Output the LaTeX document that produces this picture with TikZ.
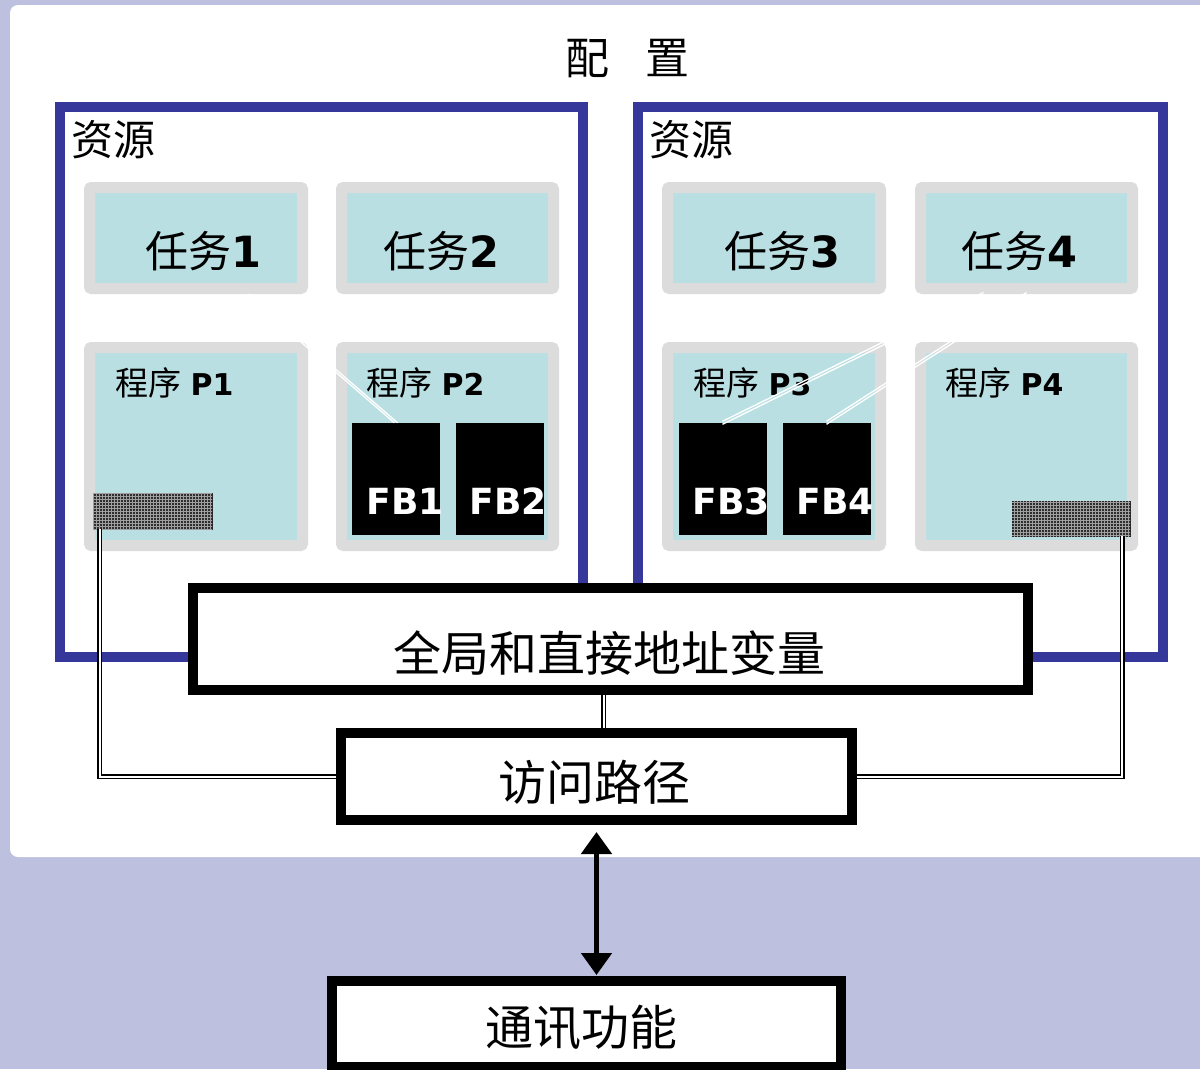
\documentclass[tikz,border=0pt]{standalone}
\usepackage{fontspec}
\setmainfont{DejaVu Sans}
\newfontfamily\cjk{Noto Sans CJK SC}
\usetikzlibrary{arrows.meta,patterns}
\definecolor{lav}{HTML}{BDC1DF}
\definecolor{resblue}{HTML}{36379B}
\definecolor{boxgrey}{HTML}{DCDCDC}
\definecolor{boxcyan}{HTML}{BADFE2}
\definecolor{hatchdark}{HTML}{2E2E2E}
\tikzset{
  bluebox/.style={draw=resblue, line width=10pt, inner sep=0pt},
  greybox/.style={draw=boxgrey, fill=boxcyan, line width=11pt, rounded corners=2pt, inner sep=0pt},
  fbbox/.style={fill=black, inner sep=0pt, minimum width=88pt, minimum height=112pt},
  fbtext/.style={text=white, inner sep=0pt, anchor=west, font=\fontsize{36}{38}\selectfont\bfseries},
  hatchbox/.style={fill=hatchdark, draw=black!85, line width=0.8pt, inner sep=0pt,
    postaction={pattern=grid, pattern color=gray!75}},
  mainbox/.style={draw=black, fill=white, line width=10pt, inner sep=0pt},
  tasklbl/.style={inner sep=0pt, font=\fontsize{43}{46}\selectfont},
  proglbl/.style={inner sep=0pt, anchor=west},
  reslbl/.style={inner sep=0pt, anchor=west, font=\cjk\fontsize{42}{44}\selectfont},
  bigtext/.style={inner sep=0pt, font=\cjk\fontsize{48}{50}\selectfont},
  dbl/.style={draw=black, line width=1.5pt, double=white, double distance=2pt},
  wl/.style={draw=white, line width=1.3pt},
  arr/.style={line width=5pt, {Triangle[width=30pt,length=22pt]}-{Triangle[width=30pt,length=22pt]}}
}
\begin{document}
\begin{tikzpicture}[x=1pt,y=-1pt]
\useasboundingbox (0,0) rectangle (1200,1069);
% background
\fill[lav] (0,0) rectangle (1200,1069);
\fill[white, rounded corners=8pt] (10,5) rectangle (1220,857);
% title
\node[inner sep=0pt, font=\cjk\fontsize{44}{46}\selectfont] (title) at (627.5,59) {配\hspace{36pt}置};
% resource boxes
\node[bluebox, minimum width=523pt, minimum height=550pt] (resL) at (321.5,382) {};
\node[bluebox, minimum width=525pt, minimum height=550pt] (resR) at (900.5,382) {};
\node[reslbl] (resLlbl) at (71,140) {资源};
\node[reslbl] (resRlbl) at (649,140) {资源};
% task boxes
\node[greybox, minimum width=213pt, minimum height=101pt] (t1) at (196,238) {};
\node[greybox, minimum width=212pt, minimum height=101pt] (t2) at (447.5,238) {};
\node[greybox, minimum width=213pt, minimum height=101pt] (t3) at (774,238) {};
\node[greybox, minimum width=212pt, minimum height=101pt] (t4) at (1026.5,238) {};
\node[tasklbl] (t1lbl) at (203,251) {{\cjk 任务}\textbf{1}};
\node[tasklbl] (t2lbl) at (441,251) {{\cjk 任务}\textbf{2}};
\node[tasklbl] (t3lbl) at (782,251) {{\cjk 任务}\textbf{3}};
\node[tasklbl] (t4lbl) at (1019.5,251) {{\cjk 任务}\textbf{4}};
% program boxes
\node[greybox, minimum width=213pt, minimum height=198pt] (p1) at (196,446.5) {};
\node[greybox, minimum width=212pt, minimum height=198pt] (p2) at (447.5,446.5) {};
\node[greybox, minimum width=213pt, minimum height=198pt] (p3) at (774,446.5) {};
\node[greybox, minimum width=212pt, minimum height=198pt] (p4) at (1026.5,446.5) {};
\newcommand{\proglabel}[1]{{\cjk\fontsize{33}{35}\selectfont 程序}{\fontsize{30}{32}\selectfont\ \textbf{#1}}}
\node[proglbl] (p1lbl) at (115,383) {\proglabel{P1}};
\node[proglbl] (p2lbl) at (366,383) {\proglabel{P2}};
\node[proglbl] (p3lbl) at (693,383) {\proglabel{P3}};
\node[proglbl] (p4lbl) at (945,383) {\proglabel{P4}};
% function blocks
\node[fbbox] (fb1) at (396,479) {};
\node[fbbox] (fb2) at (499.5,479) {};
\node[fbbox] (fb3) at (722.5,479) {};
\node[fbbox] (fb4) at (826.5,479) {};
\node[fbtext] (fb1lbl) at (366.5,501) {FB1};
\node[fbtext] (fb2lbl) at (469.5,501) {FB2};
\node[fbtext] (fb3lbl) at (692.5,501) {FB3};
\node[fbtext] (fb4lbl) at (796.5,501) {FB4};
% hatched access blocks
\node[hatchbox, minimum width=119pt, minimum height=36pt] (h1) at (152.5,511) {};
\node[hatchbox, minimum width=118pt, minimum height=35pt] (h4) at (1071,518.5) {};
% white task-to-FB connectors
\draw[wl, transform canvas={xshift=-1.6pt}] ([xshift=51pt]t1.south) -- (fb1.north);
\draw[wl, transform canvas={xshift=1.6pt}] ([xshift=51pt]t1.south) -- (fb1.north);
\draw[wl, transform canvas={yshift=-1.5pt}] ([xshift=-43pt]t4.south) -- (fb3.north);
\draw[wl, transform canvas={yshift=1.5pt}] ([xshift=-43pt]t4.south) -- (fb3.north);
\draw[wl, transform canvas={yshift=-1.5pt}] (t4.south) -- (fb4.north);
\draw[wl, transform canvas={yshift=1.5pt}] (t4.south) -- (fb4.north);
% main boxes
\node[mainbox, minimum width=835pt, minimum height=102pt] (glob) at (610.5,639) {};
\node[mainbox, minimum width=511pt, minimum height=87pt] (acc) at (596.5,776.5) {};
\node[mainbox, minimum width=509pt, minimum height=86pt] (comm) at (586.5,1024) {};
\draw[dbl] ([xshift=7pt]h1.south west) |- (acc.west);
\draw[dbl] ([xshift=-8pt]h4.south east) |- (acc.east);
\coordinate (gm) at ([xshift=-7pt]glob.south);
\draw[dbl] (gm) -- (gm |- acc.north);
\node[bigtext] (globlbl) at (609.5,653) {全局和直接地址变量};
\node[bigtext] (acclbl) at (594,782) {访问路径};
\node[bigtext] (commlbl) at (581,1028) {通讯功能};
\draw[arr] ([yshift=-7pt]acc.south) -- ([yshift=1pt]acc.south |- comm.north);
\end{tikzpicture}
\end{document}
